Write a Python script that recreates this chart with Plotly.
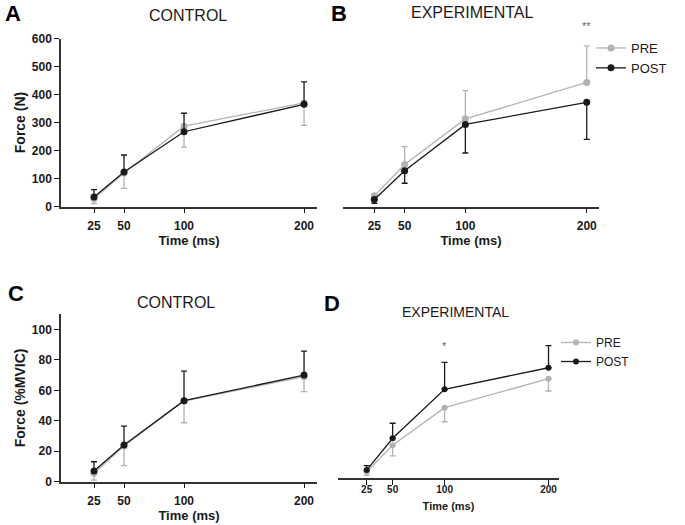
import plotly.graph_objects as go

# time points (ms)
time_ms = [25, 50, 100, 200]

# A - control, force (N)
ctrl_n_pre = [28, 120, 287, 370]
ctrl_n_pre_sd = [18, 55, 75, 80]
ctrl_n_post = [34, 123, 267, 365]
ctrl_n_post_sd = [26, 61, 66, 80]

# B - experimental, force (N)
exp_n_pre = [38, 150, 313, 443]
exp_n_pre_sd = [7, 64, 101, 131]
exp_n_post = [25, 128, 293, 372]
exp_n_post_sd = [14, 45, 102, 132]

# C - control, force (%MVIC)
ctrl_pct_pre = [5.5, 23.5, 53.0, 69.0]
ctrl_pct_pre_sd = [4.5, 13.0, 14.3, 9.9]
ctrl_pct_post = [7.0, 24.1, 53.2, 70.0]
ctrl_pct_post_sd = [6.1, 12.4, 19.4, 15.8]

# D - experimental, force (%MVIC)
exp_pct_pre = [4.4, 22.0, 47.1, 66.4]
exp_pct_pre_sd = [2.4, 7.1, 9.4, 8.2]
exp_pct_post = [5.5, 26.7, 59.3, 73.7]
exp_pct_post_sd = [2.9, 10.0, 18.0, 14.7]

# significance marks: (panel axis, text, time, height)
sig_marks = [( "2", "**", 200, 645 ), ( "4", "*", 100, 88 )]

FONT = "Liberation Sans, Arial, sans-serif"
INK = "#1a1a1a"
GREY = "#b3b3b3"
W, H = 685, 525


def fx( p ):
    return p / W


def fy( p ):
    return 1 - p / H


def px_x( a, b ):
    return [fx( a ), fx( b )]


def px_y( top, bottom ):
    return [fy( bottom ), fy( top )]


def add_pair( fig, ax, pre, pre_sd, post, post_sd, pre_up, legend=None, msize=7 ):
    zeros = [0] * len( time_ms )
    for name, y, sd, color, up in [( "PRE", pre, pre_sd, GREY, pre_up ),
                                   ( "POST", post, post_sd, INK, not pre_up )]:
        fig.add_trace( go.Scatter( x=time_ms, y=y, name=name,
                                   mode="lines+markers",
                                   xaxis="x" + ax, yaxis="y" + ax,
                                   line={ "color": color, "width": 1.3 },
                                   marker={ "color": color, "size": msize },
                                   error_y=dict( type="data", symmetric=False,
                                                 array=sd if up else zeros,
                                                 arrayminus=zeros if up else sd,
                                                 color=color, thickness=1.3, width=3 ),
                                   showlegend=legend is not None,
                                   legend=legend or "legend" ) )


fig = go.Figure()
add_pair( fig, "", ctrl_n_pre, ctrl_n_pre_sd, ctrl_n_post, ctrl_n_post_sd, pre_up=False )
add_pair( fig, "2", exp_n_pre, exp_n_pre_sd, exp_n_post, exp_n_post_sd, pre_up=True, legend="legend" )
add_pair( fig, "3", ctrl_pct_pre, ctrl_pct_pre_sd, ctrl_pct_post, ctrl_pct_post_sd, pre_up=False )
add_pair( fig, "4", exp_pct_pre, exp_pct_pre_sd, exp_pct_post, exp_pct_post_sd, pre_up=False,
          legend="legend2", msize=6 )

tick_font = dict( family=FONT, size=12, color=INK, weight="bold" )
title_font = dict( family=FONT, size=13, color=INK, weight="bold" )
xcommon = dict( tickvals=time_ms, ticks="outside", ticklen=5, tickwidth=1.3, tickcolor=INK,
                showline=True, linecolor="#333", linewidth=1.5, showgrid=False, zeroline=False,
                automargin=False, ticklabelstandoff=2,
                tickfont=tick_font, title=dict( text="Time (ms)", font=title_font, standoff=0 ) )
ycommon = dict( ticks="outside", ticklen=5, tickwidth=1.3, tickcolor=INK,
                showline=True, linecolor="#333", linewidth=1.5, showgrid=False, zeroline=False,
                automargin=False, tickfont=tick_font )

fig.update_layout(
    width=W, height=H, plot_bgcolor="white", paper_bgcolor="white",
    margin={ "r": 0, "t": 0, "l": 0, "b": 0, "pad": 0 },
    font=dict( family=FONT, color=INK ),
    xaxis=dict( xcommon, domain=px_x( 61, 317 ), range=[-2.5, 210.8], anchor="y" ),
    yaxis=dict( ycommon, domain=px_y( 38.5, 206.5 ), range=[0, 600], dtick=100, anchor="x",
                title=dict( text="Force (N)", font=dict( title_font, size=14 ), standoff=3 ) ),
    xaxis2=dict( xcommon, domain=px_x( 343, 599 ), range=[-0.8, 210.1], anchor="y2" ),
    # hidden axis, same scale as A, extended upward to hold the ** mark
    yaxis2=dict( domain=px_y( 206.5 - 660 * 0.28, 206.5 ), range=[0, 660], visible=False,
                 anchor="x2", automargin=False ),
    xaxis3=dict( xcommon, domain=px_x( 61, 317 ), range=[-2.5, 210.8], anchor="y3" ),
    yaxis3=dict( ycommon, domain=px_y( 314.2, 481.7 ), range=[0, 110], dtick=20, anchor="x3",
                 title=dict( text="Force (%MVIC)", font=dict( title_font, size=14 ), standoff=3 ) ),
    xaxis4=dict( xcommon, domain=px_x( 338, 559 ), range=[-2.6, 210.1], anchor="y4",
                 tickfont=dict( tick_font, size=10 ), ticklabelstandoff=-4,
                 title=dict( text="Time (ms)", font=dict( title_font, size=11 ), standoff=8 ) ),
    yaxis4=dict( domain=px_y( 343.3, 478.3 ), range=[0, 90], visible=False, anchor="x4",
                 automargin=False ),
    legend=dict( x=fx( 633 - 42 ), y=fy( 33 ), xanchor="left", yanchor="top",
                 font=dict( family=FONT, size=13, color=INK ), bgcolor="rgba(0,0,0,0)",
                 tracegroupgap=0 ),
    legend2=dict( x=fx( 598 - 42 ), y=fy( 328 ), xanchor="left", yanchor="top",
                  font=dict( family=FONT, size=12, color=INK ), bgcolor="rgba(0,0,0,0)",
                  tracegroupgap=0 ),
)


def label( txt, x, y, size, bold=False, color=INK ):
    fig.add_annotation( text=txt, x=fx( x ), y=fy( y ), xref="paper", yref="paper",
                        xanchor="center", yanchor="middle", showarrow=False,
                        font=dict( family=FONT, size=size, color=color,
                                   weight="bold" if bold else "normal" ) )


for txt, x, y in [( "A", 13, 13 ), ( "B", 339, 13 ), ( "C", 16, 293 ), ( "D", 332, 303 )]:
    label( txt, x, y, 22, bold=True, color="#000" )

for txt, x, y, size in [( "CONTROL", 188, 16, 16 ), ( "EXPERIMENTAL", 473, 12, 16 ),
                        ( "CONTROL", 176, 302, 16 ), ( "EXPERIMENTAL", 455, 312, 14 )]:
    label( txt, x, y, size )

for ax, txt, x, y in sig_marks:
    fig.add_annotation( text=txt, x=x, y=y, xref="x" + ax, yref="y" + ax, showarrow=False,
                        font=dict( family=FONT, size=11, color="#666" ) )

# drop the default body margin so the 685x525 figure fills the window
fig.write_html( "out.html", config={ "displayModeBar": False },
                post_script="document.body.style.margin='0';" )
